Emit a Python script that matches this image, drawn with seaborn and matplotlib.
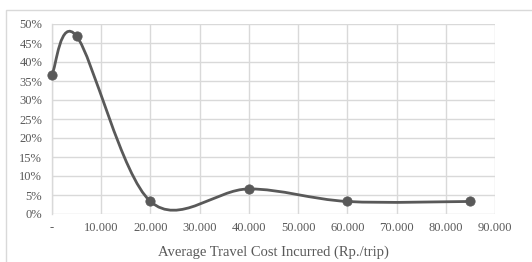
import numpy as np
import matplotlib
matplotlib.use("Agg")
import matplotlib.pyplot as plt
import seaborn as sns
import pandas as pd
from matplotlib.path import Path
from matplotlib.patches import PathPatch, Rectangle
from matplotlib.ticker import FixedLocator

# ---- data ----
cost = [0, 5000, 20000, 40000, 60000, 85000]
share = [0.367, 0.468, 0.033, 0.066, 0.033, 0.033]
x_ticks = [0, 10000, 20000, 30000, 40000, 50000, 60000, 70000, 80000, 90000]
x_tick_labels = ["-", "10.000", "20.000", "30.000", "40.000", "50.000",
                 "60.000", "70.000", "80.000", "90.000"]
y_ticks = [0, 0.05, 0.10, 0.15, 0.20, 0.25, 0.30, 0.35, 0.40, 0.45, 0.50]
y_tick_labels = ["0%", "5%", "10%", "15%", "20%", "25%", "30%", "35%", "40%", "45%", "50%"]
x_label = "Average Travel Cost Incurred (Rp./trip)"

df = pd.DataFrame({"cost": cost, "share": share})

sns.set_theme(style="white")
plt.rcParams["font.family"] = ["Liberation Serif", "DejaVu Serif"]

W, H = 532, 262
fig = plt.figure(figsize=(W / 100, H / 100), dpi=100)
L, R, T, B = 52, 495, 24, 214
ax = fig.add_axes([L / W, 1 - B / H, (R - L) / W, (B - T) / H])

# outer chart border
fig.patches.append(Rectangle((6 / W, -0.2), 1.5, 1.2 - 10 / H,
                             transform=fig.transFigure, fill=False,
                             edgecolor="#d9d9d9", linewidth=1.0))

ax.set_xlim(0, 90000)
ax.set_ylim(0, 0.5)

grid_c = "#d9d9d9"
ax.xaxis.set_major_locator(FixedLocator(x_ticks))
ax.yaxis.set_major_locator(FixedLocator(y_ticks))
ax.set_xticklabels(x_tick_labels)
ax.set_yticklabels(y_tick_labels)
ax.grid(True, color=grid_c, linewidth=1.0)
ax.set_axisbelow(True)
for s in ["top", "right", "bottom"]:
    ax.spines[s].set_visible(False)
ax.spines["left"].set_color(grid_c)
ax.spines["left"].set_linewidth(1.0)
ax.tick_params(axis="both", length=0, labelsize=9, colors="#595959")
ax.tick_params(axis="x", pad=6)
ax.tick_params(axis="y", pad=7)

# smoothed line (Excel-style Catmull-Rom Bezier), computed in pixel-scaled space
sx = (R - L) / 90000.0
sy = (B - T) / 0.5
P = np.column_stack([np.array(cost) * sx, np.array(share) * sy])
n = len(P)
verts = [P[0]]
codes = [Path.MOVETO]
for i in range(n - 1):
    p0 = P[i - 1] if i > 0 else P[i]
    p1, p2 = P[i], P[i + 1]
    p3 = P[i + 2] if i + 2 < n else P[i + 1]
    c1 = p1 + (p2 - p0) / 6.0
    c2 = p2 - (p3 - p1) / 6.0
    verts += [c1, c2, p2]
    codes += [Path.CURVE4] * 3
verts = np.array(verts)
verts[:, 0] /= sx
verts[:, 1] /= sy
ax.add_patch(PathPatch(Path(verts, codes), facecolor="none",
                       edgecolor="#595959", linewidth=2.0, zorder=3,
                       capstyle="round", joinstyle="round"))

sns.scatterplot(data=df, x="cost", y="share", ax=ax, s=45, color="#595959",
                edgecolor="#595959", zorder=4, legend=False, clip_on=False)

ax.set_xlabel(x_label, fontsize=10.5, color="#595959", labelpad=8)
ax.set_ylabel("")

fig.savefig("out.png", dpi=100)
